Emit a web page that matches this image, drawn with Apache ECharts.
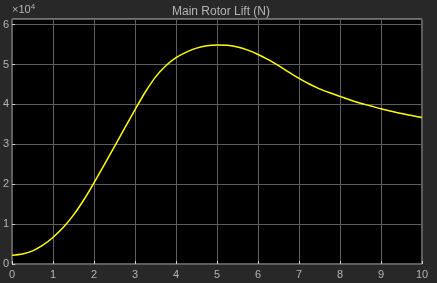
<!DOCTYPE html>
<html><head><meta charset="utf-8">
<script src="https://cdn.jsdelivr.net/npm/echarts@6/dist/echarts.min.js"></script>
<style>html,body{margin:0;padding:0;background:#282828;}#c{width:437px;height:283px;}</style>
</head><body><div id="c"></div>
<script>
var timeValues = [0,0.25,0.5,0.75,1,1.25,1.5,1.75,2,2.25,2.5,2.75,3,3.25,3.5,3.75,4,4.25,4.5,4.75,5,5.25,5.5,5.75,6,6.25,6.5,6.75,7,7.25,7.5,7.75,8,8.25,8.5,8.75,9,9.25,9.5,9.75,10];
var liftValues = [2200,2500,3300,4700,6700,9200,12300,16100,20400,24900,29500,34100,38700,43100,46900,49700,51700,53100,54100,54700,54900,54800,54400,53600,52500,51200,49700,48100,46500,45100,43900,42900,42000,41100,40300,39600,38900,38300,37700,37200,36700];
var xTicks = [0,1,2,3,4,5,6,7,8,9,10];
var yTicks = [0,1,2,3,4,5,6];
var titleText = 'Main Rotor Lift (N)';

var chart = echarts.init(document.getElementById('c'), null, {renderer:'canvas'});
var txt = '#b4b4b4';
chart.setOption({
  backgroundColor:'#282828',
  animation:false,
  title:{text:titleText,left:216,top:1,textAlign:'center',textStyle:{color:txt,fontSize:12,fontWeight:'normal',fontFamily:'Liberation Sans, Arial, sans-serif'}},
  graphic:[{type:'text',left:12,top:3,style:{text:'{a|×10}{b|4}',rich:{a:{fill:txt,fontSize:11,fontFamily:'Liberation Sans, Arial'},b:{fill:txt,fontSize:8,verticalAlign:'top',padding:[0,0,6,0],fontFamily:'Liberation Sans, Arial'}}}}],
  grid:{left:11,right:15,top:19,bottom:19,show:true,backgroundColor:'#000',borderColor:'#bdbdbd',borderWidth:1},
  xAxis:{type:'value',min:0,max:10,interval:1,
    axisLine:{show:false},
    axisTick:{show:true,inside:true,length:3,lineStyle:{color:'#d0d0d0'}},
    axisLabel:{color:txt,fontSize:11,margin:5,fontFamily:'Liberation Sans, Arial',formatter:function(v){return xTicks.indexOf(v)>=0?String(v):'';}},
    splitLine:{show:true,lineStyle:{color:'#5e5e5e',width:1}}},
  yAxis:{type:'value',min:0,max:61400,interval:10000,
    axisLine:{show:false},
    axisTick:{show:true,inside:true,length:3,lineStyle:{color:'#d0d0d0'}},
    axisLabel:{color:txt,fontSize:11,margin:3,showMaxLabel:false,fontFamily:'Liberation Sans, Arial',formatter:function(v){var t=Math.round(v/10000);return (yTicks.indexOf(t)>=0 && Math.abs(v-t*10000)<1)?String(t):'';}},
    splitLine:{show:true,lineStyle:{color:'#5e5e5e',width:1}}},
  series:[{type:'line',data:timeValues.map(function(t,i){return [t,liftValues[i]];}),smooth:0.3,showSymbol:false,lineStyle:{color:'#ffff00',width:1.5}}]
});
</script></body></html>
